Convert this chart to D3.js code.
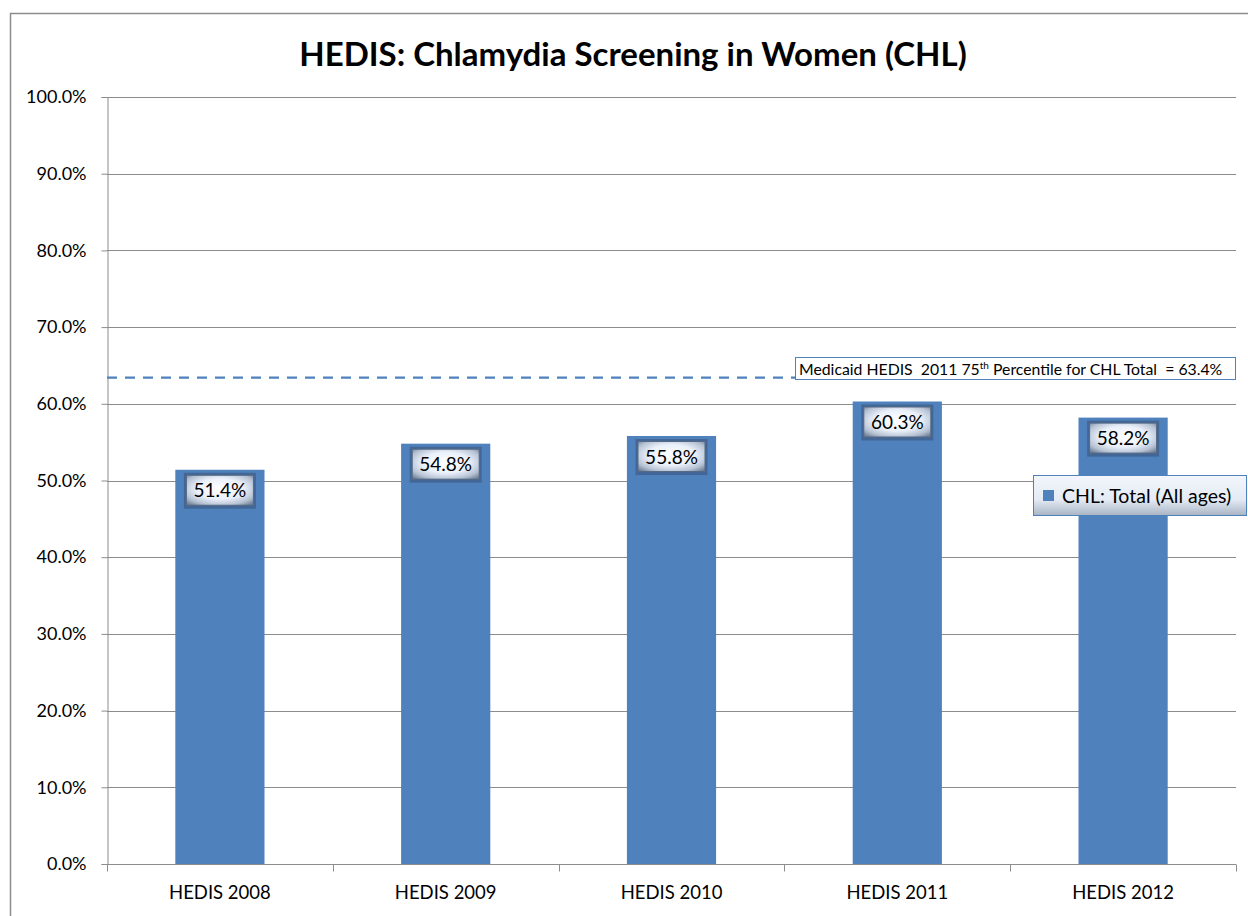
<!DOCTYPE html>
<html>
<head>
<meta charset="utf-8">
<script src="https://cdn.jsdelivr.net/npm/d3@7.9.0/dist/d3.min.js"></script>
<style>
  body { margin: 0; background: #fff; }
  svg { display: block; font-family: Lato, 'Open Sans', sans-serif; }
</style>
</head>
<body>
<svg id="chart" width="1248" height="916"></svg>
<script>
// chart data
const categories = ['HEDIS 2008', 'HEDIS 2009', 'HEDIS 2010', 'HEDIS 2011', 'HEDIS 2012'];
const values = [51.4, 54.8, 55.8, 60.3, 58.2];
const yTicks = [0, 10, 20, 30, 40, 50, 60, 70, 80, 90, 100];
const benchmark = [63.4];
const seriesName = ['CHL: Total (All ages)'];

const svg = d3.select('#chart');
const plotLeft = 107, plotRight = 1236, plotTop = 97, plotBottom = 864;

let defs = svg.append('defs');
let lg = defs.append('radialGradient').attr('id', 'lbl').attr('cx', '50%').attr('cy', '45%').attr('r', '70%');
lg.append('stop').attr('offset', '0%').attr('stop-color', '#ffffff');
lg.append('stop').attr('offset', '50%').attr('stop-color', '#eaf0fa');
lg.append('stop').attr('offset', '80%').attr('stop-color', '#b4c0d2');
lg.append('stop').attr('offset', '100%').attr('stop-color', '#6f7f96');
let lg2 = defs.append('linearGradient').attr('id', 'leg').attr('x1', 0).attr('y1', 0).attr('x2', 0).attr('y2', 1);
lg2.append('stop').attr('offset', '0%').attr('stop-color', '#f3f6fb');
lg2.append('stop').attr('offset', '60%').attr('stop-color', '#e4ebf5');
lg2.append('stop').attr('offset', '100%').attr('stop-color', '#a9b4c4');

// outer border
svg.append('path')
  .attr('d', 'M10.5,916 L10.5,13.5 L1248,13.5')
  .attr('fill', 'none').attr('stroke', '#8c8c8c').attr('stroke-width', 1.5);

svg.append('text')
  .attr('x', 633).attr('y', 66)
  .attr('text-anchor', 'middle')
  .attr('font-size', 33).attr('font-weight', 'bold')
  .attr('fill', '#000')
  .text('HEDIS: Chlamydia Screening in Women (CHL)');

let x = d3.scaleBand().domain(categories).range([plotLeft, plotRight]).paddingInner(0.605).paddingOuter(0.3025);
let y = d3.scaleLinear().domain([0, 100]).range([plotBottom, plotTop]);

// gridlines
svg.append('g').selectAll('line').data(yTicks.filter(d => d > 0)).join('line')
  .attr('x1', plotLeft).attr('x2', plotRight)
  .attr('y1', d => Math.round(y(d)) + 0.5).attr('y2', d => Math.round(y(d)) + 0.5)
  .attr('stroke', '#8c8c8c').attr('stroke-width', 1);

// y axis
let yAxis = svg.append('g').attr('transform', `translate(${plotLeft + 0.5},0)`)
  .call(d3.axisLeft(y).tickValues(yTicks).tickSize(6).tickFormat(d => d.toFixed(1) + '%'));
yAxis.select('.domain').attr('stroke', '#8c8c8c');
yAxis.selectAll('.tick line').attr('stroke', '#8c8c8c');
yAxis.selectAll('.tick text').attr('font-size', 18).attr('fill', '#000').attr('x', -21)
  .attr('font-family', 'Lato, sans-serif');

// bars
svg.append('g').selectAll('rect').data(values).join('rect')
  .attr('x', (d, i) => x(categories[i]))
  .attr('y', d => y(d))
  .attr('width', x.bandwidth())
  .attr('height', d => y(0) - y(d))
  .attr('fill', '#4f81bd');

// x axis
let xAxis = svg.append('g').attr('transform', `translate(0,${plotBottom + 0.5})`);
xAxis.append('line').attr('x1', plotLeft).attr('x2', plotRight).attr('stroke', '#8c8c8c');
let bounds = categories.map(c => x(c) - x.step() * x.paddingInner() / 2).concat([plotRight]);
xAxis.selectAll('.tk').data(bounds).join('line').attr('class', 'tk')
  .attr('x1', d => Math.round(d) + 0.5).attr('x2', d => Math.round(d) + 0.5)
  .attr('y1', 0).attr('y2', 7).attr('stroke', '#8c8c8c');
xAxis.selectAll('text').data(categories).join('text')
  .attr('x', d => x(d) + x.bandwidth() / 2).attr('y', 34)
  .attr('text-anchor', 'middle').attr('font-size', 18.5).attr('fill', '#000')
  .text(d => d);

// benchmark line
let bx = 795;
svg.append('line')
  .attr('x1', plotLeft).attr('x2', bx)
  .attr('y1', y(benchmark[0])).attr('y2', y(benchmark[0]))
  .attr('stroke', '#4f81bd').attr('stroke-width', 2.2)
  .attr('stroke-dasharray', '10,8');
svg.append('rect')
  .attr('x', bx + 0.5).attr('y', 357.5).attr('width', 440).attr('height', 22)
  .attr('fill', '#fff').attr('stroke', '#4f81bd').attr('stroke-width', 1);
let bt = svg.append('text').attr('x', bx + 4).attr('y', 374.5).attr('font-size', 15.8).attr('fill', '#000')
  .style('white-space', 'pre');
bt.append('tspan').text('Medicaid HEDIS  2011 75');
bt.append('tspan').attr('font-size', 10).attr('dy', -6).text('th');
bt.append('tspan').attr('dy', 6).text(` Percentile for CHL Total  = ${benchmark[0].toFixed(1)}%`);

// data labels
let lbl = svg.append('g').selectAll('g').data(values).join('g')
  .attr('transform', (d, i) => `translate(${x(categories[i]) + x.bandwidth() / 2},${y(d) + 20})`);
lbl.append('rect')
  .attr('x', -36).attr('y', -17).attr('width', 72).attr('height', 36)
  .attr('fill', '#3f6390').attr('opacity', 0.85);
lbl.append('rect')
  .attr('x', -33.5).attr('y', -14.5).attr('width', 67).attr('height', 30)
  .attr('fill', 'url(#lbl)').attr('stroke', '#566a84').attr('stroke-width', 1);
lbl.append('text')
  .attr('text-anchor', 'middle').attr('y', 7.5).attr('font-size', 19).attr('fill', '#000')
  .text(d => d.toFixed(1) + '%');

// legend
let leg = svg.append('g').attr('transform', 'translate(1033,475)');
leg.append('rect').attr('x', 0.5).attr('y', 0.5).attr('width', 213).attr('height', 40)
  .attr('fill', 'url(#leg)').attr('stroke', '#4f81bd');
leg.append('rect').attr('x', 10).attr('y', 15).attr('width', 11).attr('height', 11).attr('fill', '#4f81bd');
leg.append('text').attr('x', 29).attr('y', 28).attr('font-size', 19.5).attr('fill', '#000').text(seriesName[0]);
</script>
</body>
</html>
